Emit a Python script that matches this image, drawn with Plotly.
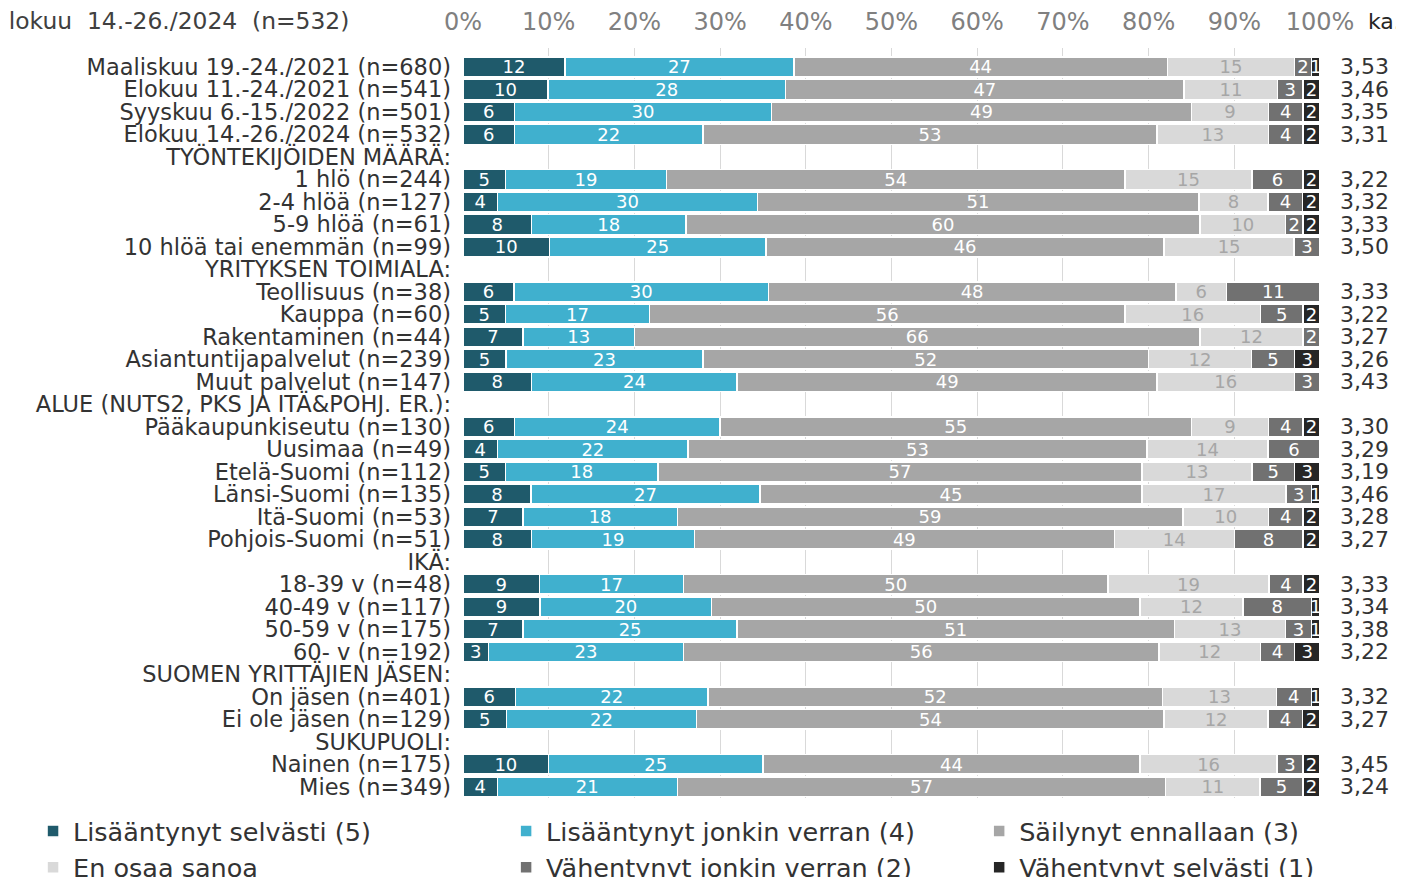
import plotly.graph_objects as go

categories = [
    'Maaliskuu 19.-24./2021 (n=680)', 'Elokuu 11.-24./2021 (n=541)',
    'Syyskuu 6.-15./2022 (n=501)', 'Elokuu 14.-26./2024 (n=532)',
    'TYÖNTEKIJÖIDEN MÄÄRÄ:',
    '1 hlö (n=244)', '2-4 hlöä (n=127)', '5-9 hlöä (n=61)', '10 hlöä tai enemmän (n=99)',
    'YRITYKSEN TOIMIALA:',
    'Teollisuus (n=38)', 'Kauppa (n=60)', 'Rakentaminen (n=44)',
    'Asiantuntijapalvelut (n=239)', 'Muut palvelut (n=147)',
    'ALUE (NUTS2, PKS JA ITÄ&POHJ. ER.):',
    'Pääkaupunkiseutu (n=130)', 'Uusimaa (n=49)', 'Etelä-Suomi (n=112)',
    'Länsi-Suomi (n=135)', 'Itä-Suomi (n=53)', 'Pohjois-Suomi (n=51)',
    'IKÄ:',
    '18-39 v (n=48)', '40-49 v (n=117)', '50-59 v (n=175)', '60- v (n=192)',
    'SUOMEN YRITTÄJIEN JÄSEN:',
    'On jäsen (n=401)', 'Ei ole jäsen (n=129)',
    'SUKUPUOLI:',
    'Nainen (n=175)', 'Mies (n=349)',
]

# None = header row without a bar
lisaantynyt_selvasti = [12, 10, 6, 6, None, 5, 4, 8, 10, None, 6, 5, 7, 5, 8, None,
                        6, 4, 5, 8, 7, 8, None, 9, 9, 7, 3, None, 6, 5, None, 10, 4]
lisaantynyt_jonkin = [27, 28, 30, 22, None, 19, 30, 18, 25, None, 30, 17, 13, 23, 24, None,
                      24, 22, 18, 27, 18, 19, None, 17, 20, 25, 23, None, 22, 22, None, 25, 21]
sailynyt = [44, 47, 49, 53, None, 54, 51, 60, 46, None, 48, 56, 66, 52, 49, None,
            55, 53, 57, 45, 59, 49, None, 50, 50, 51, 56, None, 52, 54, None, 44, 57]
en_osaa = [15, 11, 9, 13, None, 15, 8, 10, 15, None, 6, 16, 12, 12, 16, None,
           9, 14, 13, 17, 10, 14, None, 19, 12, 13, 12, None, 13, 12, None, 16, 11]
vahentynyt_jonkin = [2, 3, 4, 4, None, 6, 4, 2, 3, None, 11, 5, 2, 5, 3, None,
                     4, 6, 5, 3, 4, 8, None, 4, 8, 3, 4, None, 4, 4, None, 3, 5]
vahentynyt_selvasti = [1, 2, 2, 2, None, 2, 2, 2, 0, None, 0, 2, 0, 3, 0, None,
                       2, 0, 3, 1, 2, 2, None, 2, 1, 1, 3, None, 1, 2, None, 2, 2]
keskiarvo = ['3,53', '3,46', '3,35', '3,31', '', '3,22', '3,32', '3,33', '3,50', '',
             '3,33', '3,22', '3,27', '3,26', '3,43', '', '3,30', '3,29', '3,19', '3,46',
             '3,28', '3,27', '', '3,33', '3,34', '3,38', '3,22', '', '3,32', '3,27', '',
             '3,45', '3,24']

# name, values, bar colour, label colour, legend column
series = [
    ('Lisääntynyt selvästi (5)', lisaantynyt_selvasti, '#1F5A6B', 'white', 'legend'),
    ('Lisääntynyt jonkin verran (4)', lisaantynyt_jonkin, '#40B0CE', 'white', 'legend2'),
    ('Säilynyt ennallaan (3)', sailynyt, '#A6A6A6', 'white', 'legend3'),
    ('En osaa sanoa', en_osaa, '#D9D9D9', '#A6A6A6', 'legend'),
    ('Vähentynyt jonkin verran (2)', vahentynyt_jonkin, '#717171', 'white', 'legend2'),
    ('Vähentynyt selvästi (1)', vahentynyt_selvasti, '#262626', 'white', 'legend3'),
]

FONT = 'DejaVu Sans'
# the page body adds an 8px margin, so the figure is 8px smaller than the window
W, H = 1396, 869

# row totals, so every bar is scaled to 100 %
totals = []
for i in range(len(categories)):
    vals = [s[1][i] for s in series]
    totals.append(sum(vals) if vals[0] is not None else None)

fig = go.Figure()
for name, vals, color, txtcolor, leg in series:
    xs = [v / t * 100 if v is not None else None for v, t in zip(vals, totals)]
    txt = [str(v) if v else '' for v in vals]
    fig.add_trace(go.Bar(
        y=categories, x=xs, name=name, orientation='h', legend=leg,
        marker={'color': color, 'line': {'color': 'white', 'width': 1.5}},
        text=txt, textposition='inside', insidetextanchor='middle', textangle=0,
        textfont={'family': FONT, 'size': 18, 'color': txtcolor},
        hoverinfo='skip',
    ))

annotations = []
for cat, ka in zip(categories, keskiarvo):
    if ka:
        annotations.append({
            'x': 1.0514, 'y': cat, 'xref': 'paper', 'yref': 'y', 'text': ka,
            'showarrow': False, 'xanchor': 'center',
            'font': {'family': FONT, 'size': 22, 'color': '#333333'},
        })
annotations.append({
    'x': 1.0537, 'y': 1.0, 'xref': 'paper', 'yref': 'paper', 'xanchor': 'left',
    'yanchor': 'bottom', 'yshift': 12, 'text': 'ka.', 'showarrow': False,
    'font': {'family': FONT, 'size': 22, 'color': '#262626'},
})
annotations.append({
    'x': -0.5497, 'y': 1.0, 'xref': 'paper', 'yref': 'paper', 'xanchor': 'left',
    'yanchor': 'bottom', 'yshift': 11,
    'text': 'Elokuu\u00a0 14.-26./2024\u00a0 (n=532)', 'showarrow': False,
    'font': {'family': FONT, 'size': 23.4, 'color': '#404040'},
})

legend_style = {
    'orientation': 'v', 'yref': 'container', 'y': 0.0794, 'yanchor': 'top',
    'xanchor': 'left', 'traceorder': 'normal', 'itemwidth': 30,
    'tracegroupgap': 0, 'bgcolor': 'rgba(0,0,0,0)',
    'font': {'family': FONT, 'size': 25.5, 'color': '#333333'},
}

fig.update_layout(
    width=W, height=H,
    barmode='stack', bargap=0.12,
    plot_bgcolor='white', paper_bgcolor='white',
    margin={'l': 455, 'r': 84, 't': 40, 'b': 79, 'autoexpand': False},
    font={'family': FONT, 'size': 22, 'color': '#333333'},
    uniformtext={'minsize': 18, 'mode': 'show'},
    showlegend=True,
    legend={**legend_style, 'x': -0.5017},
    legend2={**legend_style, 'x': 0.0503},
    legend3={**legend_style, 'x': 0.6023},
    annotations=annotations,
)
fig.update_xaxes(
    range=[0, 100], side='top', dtick=10, ticksuffix='%', automargin=False,
    showgrid=True, gridcolor='#D9D9D9', gridwidth=1, zeroline=False,
    tickfont={'family': FONT, 'size': 24, 'color': '#808080'},
    ticklabelstandoff=12, fixedrange=True,
)
fig.update_yaxes(
    autorange=False, range=[32.5, -0.84], tickmode='linear', dtick=1,
    automargin=False, showgrid=False, ticks='', ticklabelstandoff=11,
    tickfont={'family': FONT, 'size': 22.5, 'color': '#333333'}, fixedrange=True,
)

fig.write_html('out.html')
